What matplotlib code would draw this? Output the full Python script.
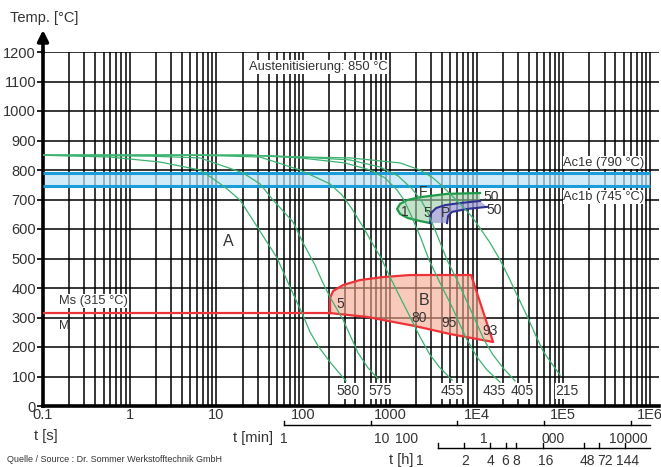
import matplotlib
matplotlib.use("Agg")
import matplotlib.pyplot as plt
import matplotlib.ticker as mticker
from matplotlib.transforms import blended_transform_factory

plt.rcParams["font.family"] = ["Liberation Sans", "DejaVu Sans"]
TXT = "#333333"

# ── cooling curves: time [s] / temperature [°C], hardness at the end ─────────
c580_t = [0.1, 0.59, 2.24, 6.47, 8.9, 12.9, 18.7, 30.2, 50, 70.6, 97, 120, 149, 204, 312]
c580_T = [850, 844, 827, 800, 773, 739, 698, 603, 502, 403, 315, 251, 203, 149, 85]

c575_t = [0.1, 1.71, 6.47, 20.3, 31.8, 45, 76.4, 99.7, 137, 165, 204, 289, 430, 561, 731]
c575_T = [850, 847, 841, 790, 753, 698, 624, 553, 478, 424, 369, 292, 180, 129, 92]

c455_t = [0.1, 6.47, 31.8, 92.1, 204, 281, 366, 491, 623, 792, 1005, 1311, 1710, 2230, 2909, 3793, 5216]
c455_T = [850, 850, 844, 800, 753, 715, 668, 607, 553, 502, 437, 369, 302, 234, 173, 129, 88]

c435_t = [0.1, 24.4, 92.1, 304, 591, 880, 1211, 1458, 1710, 2230, 2832, 3793, 5216, 6452, 7771,
          10130, 13210, 18660]
c435_T = [850, 850, 841, 824, 800, 773, 732, 698, 654, 576, 495, 417, 336, 275, 224, 166, 122, 81]

c405_t = [0.1, 24.4, 92.1, 348, 771, 1243, 1803, 2290, 2758, 3502, 4567, 5959, 7771, 9867, 12200,
          15500, 20220, 27800]
c405_T = [850, 850, 844, 834, 810, 780, 736, 698, 654, 580, 495, 427, 353, 285, 224, 173, 129, 85]

c215_t = [0.1, 24.4, 92.1, 348, 1311, 2230, 3150, 4000, 4947, 6988, 8874, 10970, 14310, 18660,
          23090, 27800, 38230, 47290, 58480, 74270, 91860]
c215_T = [850, 850, 844, 841, 824, 800, 773, 746, 719, 675, 641, 603, 553, 495, 441, 390, 305,
          244, 186, 142, 105]

curves = [(c580_t, c580_T), (c575_t, c575_T), (c455_t, c455_T),
          (c435_t, c435_T), (c405_t, c405_T), (c215_t, c215_T)]
hardness = ["580", "575", "455", "435", "405", "215"]
hardness_t = [330, 771, 5216, 15900, 33500, 110700]

# ── transformation regions ───────────────────────────────────────────────────
F_t = [10970, 4567, 2230, 1579, 1311, 1211, 1311, 1622, 2230, 2909, 2987, 3412, 4332, 6452, 10970]
F_T = [722, 719, 708, 698, 685, 668, 651, 637, 627, 620, 654, 671, 681, 688, 695]

P_t = [2909, 2987, 3412, 4332, 6452, 10970, 13210, 7771, 5216, 4690, 4567]
P_T = [620, 654, 671, 681, 688, 695, 675, 668, 658, 644, 620]

B_t = [204, 204, 222, 289, 453, 835, 1710, 8650, 15500, 4947, 1953, 546, 204]
B_T = [315, 366, 390, 410, 427, 437, 444, 444, 217, 244, 271, 302, 315]

Ms = 315
Ac1b, Ac1e = 745, 790

# region labels: text, time [s], temperature [°C]
region_labels = [("F", 2415, 726), ("1", 1496, 658), ("5", 2686, 654), ("P", 4332, 654),
                 ("50", 14700, 708), ("50", 15900, 664),
                 ("5", 267, 346), ("80", 2173, 298), ("95", 4820, 281), ("93", 14310, 254)]

# secondary time scales
min_ticks = [1, 10, 100, 1000, 10000]                 # minutes
min_labels = ["1", "10", "100", "1", "000", "10000"]
min_label_t = [60, 813, 1538, 12200, 76200, 558000]   # where they sit [s]
h_ticks = [1, 2, 4, 6, 8, 16, 48, 72, 144]            # hours
h_labels = ["1", "2", "4", "6", "8", "16", "48", "72", "144"]
h_label_t = [2230, 7360, 14400, 21600, 28800, 63400, 192000, 305000, 558000]

x_major = [0.1, 1, 10, 100, 1000, 1e4, 1e5, 1e6]
x_major_lbl = ["0.1", "1", "10", "100", "1000", "1E4", "1E5", "1E6"]

# ── figure ───────────────────────────────────────────────────────────────────
fig = plt.figure(figsize=(6.61, 4.67), dpi=100)
ax = fig.add_axes([43 / 661, 61 / 467, 616 / 661, 354 / 467])
ax.set_xscale("log")
ax.set_xlim(0.1, 1.27e6)
ax.set_ylim(0, 1200)

ax.set_xticks(x_major)
ax.set_xticklabels(x_major_lbl)
ax.xaxis.set_minor_locator(mticker.LogLocator(base=10, subs=range(2, 10), numticks=20))
ax.xaxis.set_minor_formatter(mticker.NullFormatter())
ax.set_yticks(range(0, 1201, 100))
ax.tick_params(axis="x", which="both", length=0, pad=1.5, labelsize=10.5, labelcolor=TXT)
ax.tick_params(axis="y", length=4, width=1.2, pad=1, labelsize=10.5, labelcolor=TXT)

ax.set_axisbelow(True)
ax.grid(axis="x", which="both", color="black", lw=1.1)
ax.grid(axis="y", which="major", color="black", lw=1.1)
for s in ("top", "right"):
    ax.spines[s].set_visible(False)
ax.spines["left"].set_linewidth(2.6)
ax.spines["bottom"].set_linewidth(2.6)
ax.annotate("", xy=(0, 1.07), xytext=(0, 0.99), xycoords="axes fraction",
            arrowprops=dict(arrowstyle="-|>", lw=2.6, color="black", mutation_scale=16))

# Ac1 band
ax.fill_between([0.1, 1e6], Ac1b, Ac1e, color="#bfe3f6", alpha=0.7, lw=0, zorder=2)
ax.hlines([Ac1b, Ac1e], 0.1, 1e6, color="#1a9dd9", lw=2.2, zorder=3)

# regions
ax.fill(B_t, B_T, facecolor="#f6a88e", alpha=0.6, edgecolor="none", zorder=2)
ax.plot(B_t, B_T, color="#ee3338", lw=1.6, zorder=4)
ax.hlines(Ms, 0.1, B_t[0], color="#ee3338", lw=1.6, zorder=4)
ax.fill(F_t, F_T, facecolor="#9dd0a6", alpha=0.6, edgecolor="none", zorder=2)
ax.plot(F_t[:10], F_T[:10], color="#1f9a48", lw=1.6, zorder=4)
ax.fill(P_t, P_T, facecolor="#9c9cd4", alpha=0.75, edgecolor="none", zorder=2)
ax.plot(P_t[:6], P_T[:6], color="#2e3192", lw=1.5, zorder=4)
ax.plot(P_t[6:], P_T[6:], color="#2e3192", lw=1.5, zorder=4)

# cooling curves
for t, T in curves:
    ax.plot(t, T, color="#3cb371", lw=0.9, zorder=5)

box = dict(facecolor="white", edgecolor="none", pad=0.6)
for lbl, tx in zip(hardness, hardness_t):
    ax.text(tx, 51, lbl, ha="center", va="center", fontsize=10, color=TXT, bbox=box, zorder=6)

for lbl, tx, ty in region_labels:
    ax.text(tx, ty, lbl, ha="center", va="center", fontsize=10, color=TXT, zorder=6)

ax.text(13.6, 556, "A", ha="center", va="center", fontsize=11.5, color=TXT)
ax.text(2480, 356, "B", ha="center", va="center", fontsize=11.5, color=TXT, zorder=6)
ax.text(24, 1150, "Austenitisierung: 850 °C", ha="left", va="center", fontsize=9.3,
        color=TXT, bbox=box, zorder=6)
ax.text(1e5, 825, "Ac1e (790 °C)", ha="left", va="center", fontsize=9.3, color=TXT,
        bbox=box, zorder=6)
ax.text(1e5, 708, "Ac1b (745 °C)", ha="left", va="center", fontsize=9.3, color=TXT,
        bbox=box, zorder=6)
ax.text(0.153, 356, "Ms (315 °C)", ha="left", va="center", fontsize=9.3, color=TXT,
        bbox=box, zorder=6)
ax.text(0.153, 271, "M", ha="left", va="center", fontsize=9.3, color=TXT, zorder=6)

# ── secondary scales (minutes / hours) ──────────────────────────────────────
tr = blended_transform_factory(ax.transData, ax.transAxes)
min_s = [m * 60 for m in min_ticks]
ax.plot([min_s[0], 1e6], [-0.054, -0.054], color="black", lw=1, transform=tr, clip_on=False)
for s in min_s:
    ax.plot([s, s], [-0.054, -0.041], color="black", lw=1, transform=tr, clip_on=False)
for lbl, s in zip(min_labels, min_label_t):
    ax.text(s, -0.092, lbl, ha="center", va="center", fontsize=10, color=TXT, transform=tr)

h_s = [h * 3600 for h in h_ticks]
ax.plot([h_s[0], 1e6], [-0.119, -0.119], color="black", lw=1, transform=tr, clip_on=False)
for s in h_s:
    ax.plot([s, s], [-0.119, -0.105], color="black", lw=1, transform=tr, clip_on=False)
for lbl, s in zip(h_labels, h_label_t):
    ax.text(s, -0.155, lbl, ha="center", va="center", fontsize=10, color=TXT, transform=tr)

fig.text(34 / 661, 1 - 436 / 467, "t [s]", ha="left", va="center", fontsize=10.5, color=TXT)
fig.text(233 / 661, 1 - 438 / 467, "t [min]", ha="left", va="center", fontsize=10.5, color=TXT)
fig.text(389 / 661, 1 - 460 / 467, "t [h]", ha="left", va="center", fontsize=10.5, color=TXT)
fig.text(10 / 661, 1 - 18 / 467, "Temp. [°C]", ha="left", va="center", fontsize=10.5, color=TXT)
fig.text(7 / 661, 1 - 460 / 467, "Quelle / Source : Dr. Sommer Werkstofftechnik GmbH",
         ha="left", va="center", fontsize=6.5, color=TXT)

fig.savefig("out.png", dpi=100)
plt.close(fig)
